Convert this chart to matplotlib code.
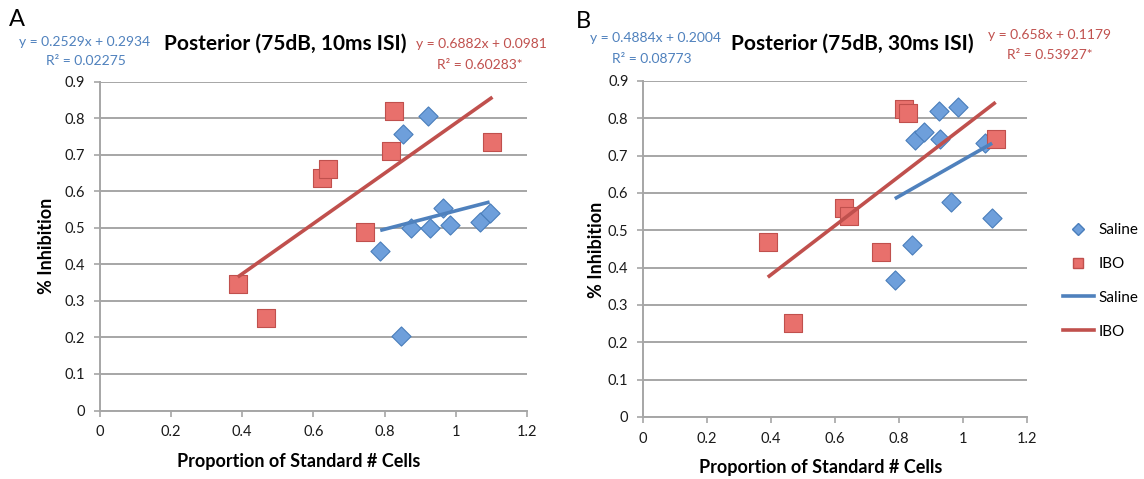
import matplotlib
matplotlib.use("Agg")
import matplotlib.pyplot as plt
from matplotlib.lines import Line2D
import numpy as np

plt.rcParams['font.family'] = ['Lato', 'DejaVu Sans']

# ---------------- data ----------------
# Panel A: Posterior (75dB, 10ms ISI)
a_saline_x = [0.788, 0.845, 0.852, 0.875, 0.923, 0.928, 0.964, 0.983, 1.067, 1.095]
a_saline_y = [0.437, 0.203, 0.757, 0.498, 0.805, 0.498, 0.554, 0.507, 0.516, 0.539]
a_ibo_x = [0.388, 0.466, 0.625, 0.641, 0.745, 0.817, 0.828, 1.103]
a_ibo_y = [0.347, 0.253, 0.637, 0.662, 0.487, 0.711, 0.819, 0.735]
a_saline_fit = (0.2529, 0.2934)
a_ibo_fit = (0.6882, 0.0981)

# Panel B: Posterior (75dB, 30ms ISI)
b_saline_x = [0.787, 0.842, 0.851, 0.877, 0.924, 0.928, 0.961, 0.984, 1.068, 1.091]
b_saline_y = [0.368, 0.460, 0.742, 0.764, 0.820, 0.744, 0.576, 0.831, 0.735, 0.534]
b_ibo_x = [0.390, 0.470, 0.628, 0.643, 0.745, 0.816, 0.827, 1.102]
b_ibo_y = [0.469, 0.252, 0.559, 0.538, 0.441, 0.825, 0.815, 0.744]
b_saline_fit = (0.4884, 0.2004)
b_ibo_fit = (0.658, 0.1179)

titles = ["Posterior (75dB, 10ms ISI)", "Posterior (75dB, 30ms ISI)"]
panel_letters = ["A", "B"]
sal_eq = [("y = 0.2529x + 0.2934", "R² = 0.02275"), ("y = 0.4884x + 0.2004", "R² = 0.08773")]
ibo_eq = [("y = 0.6882x + 0.0981", "R² = 0.60283*"), ("y = 0.658x + 0.1179", "R² = 0.53927*")]
x_ticks = [0, 0.2, 0.4, 0.6, 0.8, 1, 1.2]
x_ticklabels = ["0", "0.2", "0.4", "0.6", "0.8", "1", "1.2"]
y_ticks = [0, 0.1, 0.2, 0.3, 0.4, 0.5, 0.6, 0.7, 0.8, 0.9]
y_ticklabels = ["0", "0.1", "0.2", "0.3", "0.4", "0.5", "0.6", "0.7", "0.8", "0.9"]
x_label = "Proportion of Standard # Cells"
y_label = "% Inhibition"
legend_labels = ["Saline", "IBO", "Saline", "IBO"]

# ---------------- style ----------------
W, H = 1144, 479
BLUE_FILL = "#6E9FDB"
BLUE_EDGE = "#4A7EBB"
RED_FILL = "#E8706C"
RED_EDGE = "#C0504D"
BLUE_LINE = "#4F81BD"
RED_LINE = "#C0504D"
BLUE_TXT = "#4F81BD"
RED_TXT = "#C0504D"
GRID = "#A6A6A6"

fig = plt.figure(figsize=(W / 100, H / 100), dpi=100)
fig.patch.set_facecolor("white")

# pixel boxes (left, right, top, bottom)
boxes = [(99.5, 527, 81.5, 410.5), (643, 1027, 81, 417)]
xlabel_pos = [(299, 462), (821, 468)]
ylabel_pos = [(47, 246), (597, 250)]

axes = []
for (l, r, t, b) in boxes:
    axes.append(fig.add_axes([l / W, 1 - b / H, (r - l) / W, (b - t) / H]))

panels = [
    (a_saline_x, a_saline_y, a_ibo_x, a_ibo_y, a_saline_fit, a_ibo_fit),
    (b_saline_x, b_saline_y, b_ibo_x, b_ibo_y, b_saline_fit, b_ibo_fit),
]

for k, (ax, (sx, sy, ix, iy, sfit, ifit)) in enumerate(zip(axes, panels)):
    l, r, t, b = boxes[k]
    ax.set_xlim(0, 1.2)
    ax.set_ylim(0, 0.9)
    ax.set_xticks(x_ticks)
    ax.set_xticklabels(x_ticklabels)
    ax.set_yticks(y_ticks)
    ax.set_yticklabels(y_ticklabels)
    ax.yaxis.grid(True, color=GRID, linewidth=1.4, zorder=0)
    ax.set_axisbelow(True)
    for s in ["top", "right"]:
        ax.spines[s].set_visible(False)
    for s in ["left", "bottom"]:
        ax.spines[s].set_color(GRID)
        ax.spines[s].set_linewidth(1.4)
    ax.tick_params(axis="both", colors=GRID, labelcolor="#1a1a1a",
                   labelsize=10.5, length=4, width=1.2, direction="out", pad=6.5)
    ax.set_xlabel(x_label, fontsize=13, fontweight="bold")
    ax.set_ylabel(y_label, fontsize=13, fontweight="bold")
    xl, yl = xlabel_pos[k]
    ax.xaxis.label.set_va("center")
    ax.xaxis.label.set_ha("center")
    ax.xaxis.set_label_coords((xl - l) / (r - l), (b - yl) / (b - t))
    xl2, yl2 = ylabel_pos[k]
    ax.yaxis.label.set_va("center")
    ax.yaxis.label.set_ha("center")
    ax.yaxis.set_label_coords((xl2 - l) / (r - l), (b - yl2) / (b - t))

    ax.scatter(sx, sy, marker="D", s=95, facecolor=BLUE_FILL, edgecolor=BLUE_EDGE,
               linewidth=0.8, zorder=3, clip_on=False)
    ax.scatter(ix, iy, marker="s", s=175, facecolor=RED_FILL, edgecolor=RED_EDGE,
               linewidth=0.8, zorder=3, clip_on=False)

    xs = np.array([min(sx), max(sx)])
    ax.plot(xs, sfit[0] * xs + sfit[1], color=BLUE_LINE, linewidth=2.6,
            zorder=4, solid_capstyle="butt")
    xi = np.array([min(ix), max(ix)])
    ax.plot(xi, ifit[0] * xi + ifit[1], color=RED_LINE, linewidth=2.6,
            zorder=4, solid_capstyle="butt", clip_on=False)


def ftext(x, y, s, **kw):
    fig.text(x / W, 1 - y / H, s, **kw)


# Panel letters
ftext(17, 20, panel_letters[0], fontsize=17, ha="center", va="center")
ftext(583, 21, panel_letters[1], fontsize=17, ha="center", va="center")

# Titles
ftext(285, 44, titles[0], fontsize=15, fontweight="bold", ha="center", va="center")
ftext(852, 44, titles[1], fontsize=15, fontweight="bold", ha="center", va="center")

# Equations panel A
ftext(85, 42, sal_eq[0][0], fontsize=10, color=BLUE_TXT, ha="center", va="center")
ftext(86, 61, sal_eq[0][1], fontsize=10, color=BLUE_TXT, ha="center", va="center")
ftext(481, 44, ibo_eq[0][0], fontsize=10, color=RED_TXT, ha="center", va="center")
ftext(480, 65, ibo_eq[0][1], fontsize=10, color=RED_TXT, ha="center", va="center")

# Equations panel B
ftext(656, 38, sal_eq[1][0], fontsize=10, color=BLUE_TXT, ha="center", va="center")
ftext(652, 59, sal_eq[1][1], fontsize=10, color=BLUE_TXT, ha="center", va="center")
ftext(1050, 35, ibo_eq[1][0], fontsize=10, color=RED_TXT, ha="center", va="center")
ftext(1050, 55, ibo_eq[1][1], fontsize=10, color=RED_TXT, ha="center", va="center")

# Legend
handles = [
    Line2D([], [], linestyle="none", marker="D", markersize=6,
           markerfacecolor=BLUE_FILL, markeredgecolor=BLUE_EDGE),
    Line2D([], [], linestyle="none", marker="s", markersize=7,
           markerfacecolor=RED_FILL, markeredgecolor=RED_EDGE),
    Line2D([], [], color=BLUE_LINE, linewidth=2.6),
    Line2D([], [], color=RED_LINE, linewidth=2.6),
]
fig.legend(handles, legend_labels, loc="upper left",
           bbox_to_anchor=(1063 / W, 1 - 223 / H), frameon=False, fontsize=11,
           labelspacing=1.3, handlelength=2.0, handletextpad=0.3,
           borderaxespad=0, borderpad=0)

fig.savefig("out.png", dpi=100, facecolor="white")
